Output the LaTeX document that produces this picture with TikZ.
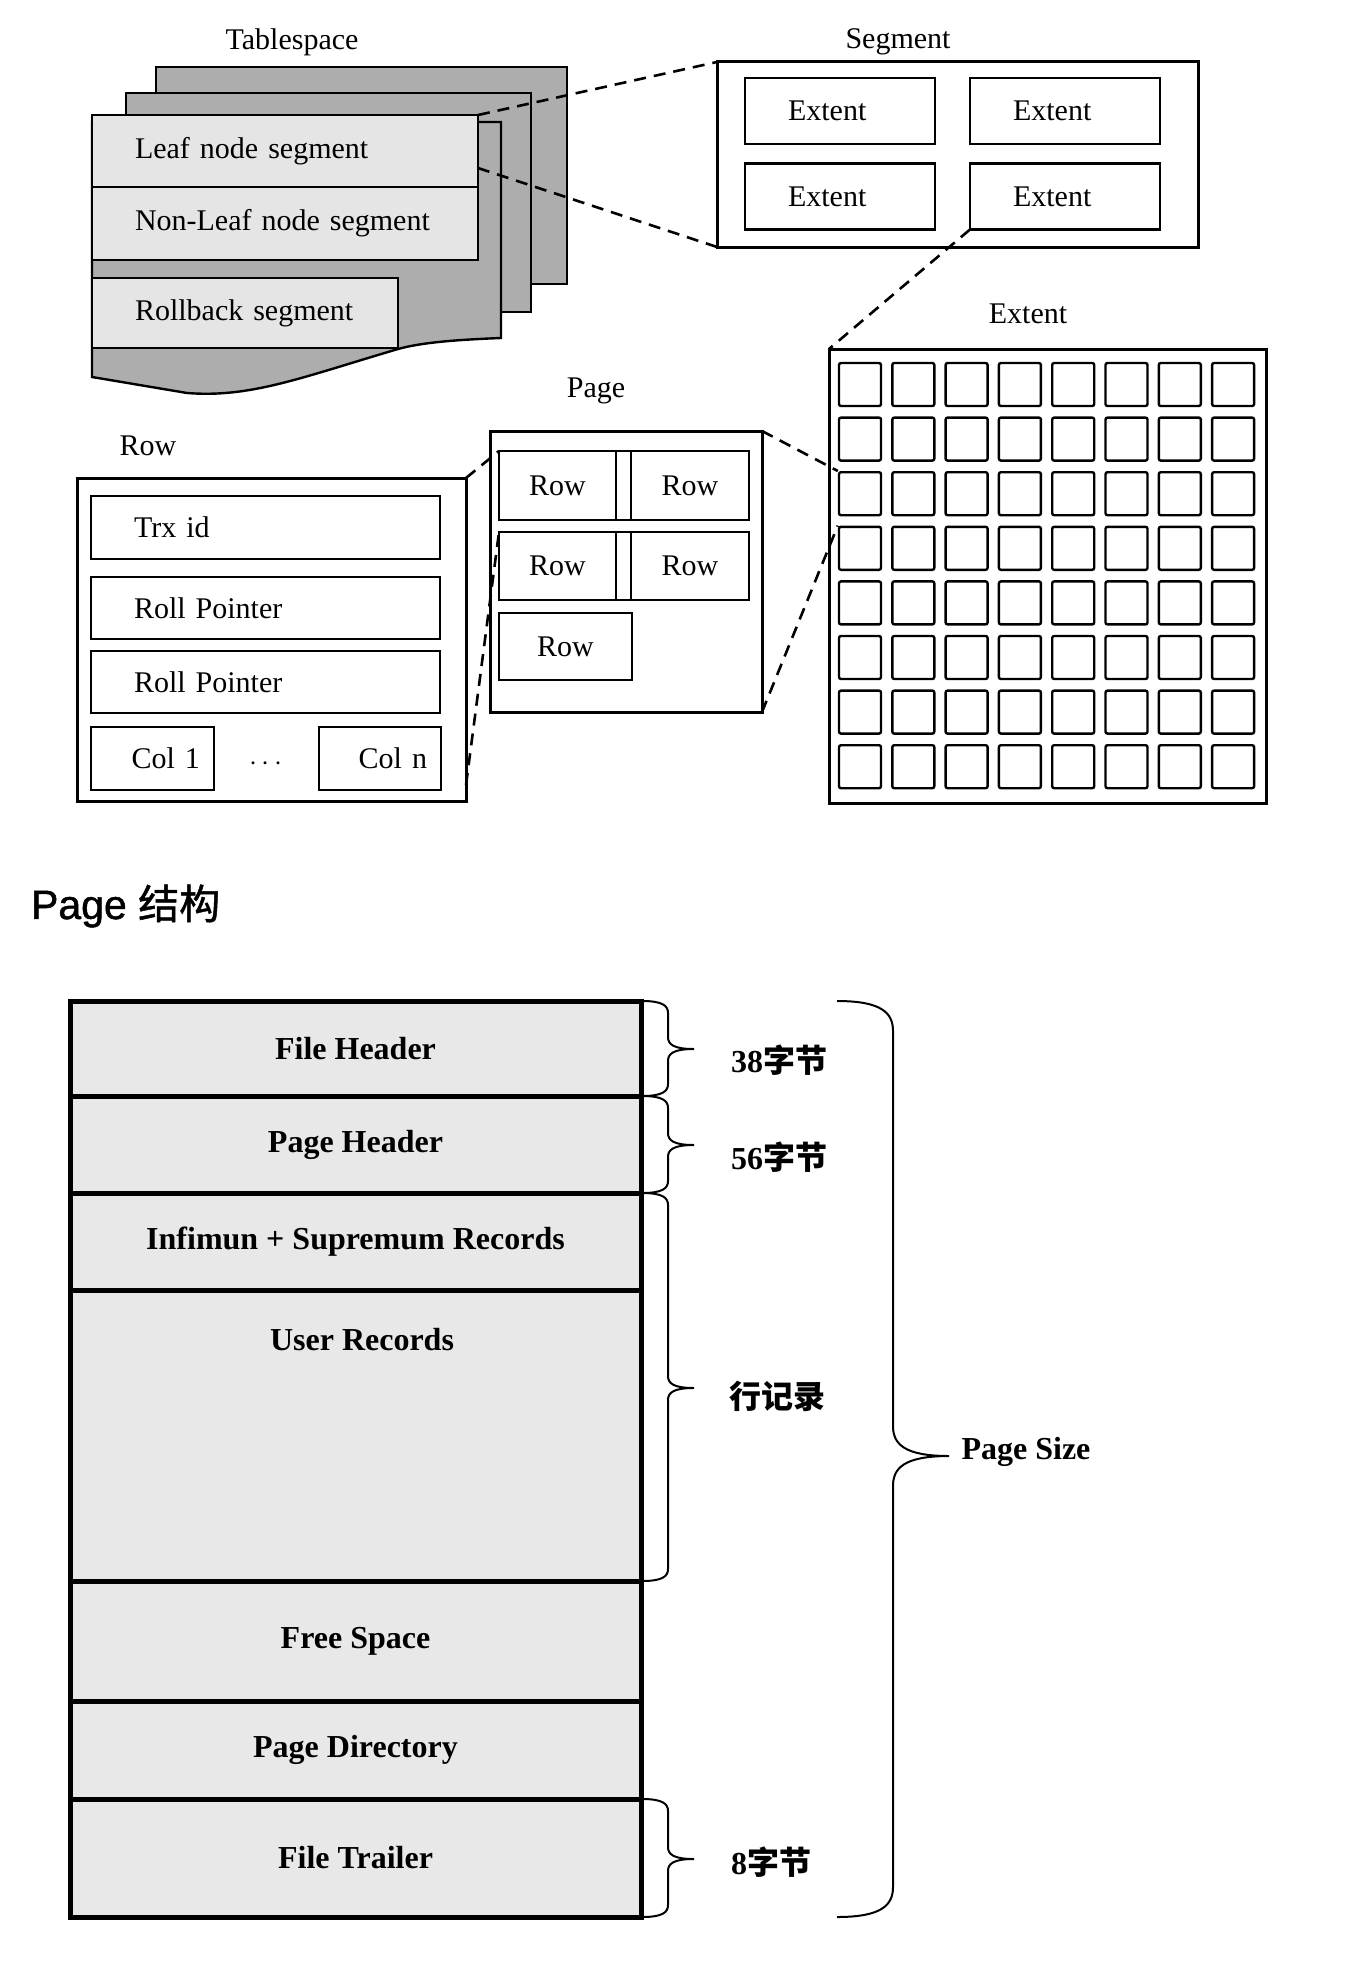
\documentclass[tikz,border=0pt]{standalone}
\usepackage{fontspec}
\setmainfont{Liberation Serif}
\newfontfamily\cjk{Noto Sans CJK SC}
\newfontfamily\titlefont[FakeBold=1.2]{Liberation Sans}
\newfontfamily\titlecjk[FakeBold=1.2]{Noto Sans CJK SC}

\definecolor{sheetgray}{gray}{0.68}
\definecolor{boxgray}{gray}{0.90}
\definecolor{pagegray}{gray}{0.91}

% brace: x, top, bottom, tip, half width, curl
\newcommand\pbrace[6]{%
  \draw[bracepath] (#1,#2) .. controls ({#1+0.8*#5},#2) and ({#1+#5},{#2+0.4*#6}) .. ({#1+#5},{#2+#6})
    -- ({#1+#5},{#4-#6}) .. controls ({#1+#5},{#4-0.4*#6}) and ({#1+1.2*#5},#4) .. ({#1+2*#5},#4)
    .. controls ({#1+1.2*#5},#4) and ({#1+#5},{#4+0.4*#6}) .. ({#1+#5},{#4+#6})
    -- ({#1+#5},{#3-#6}) .. controls ({#1+#5},{#3-0.4*#6}) and ({#1+0.8*#5},#3) .. (#1,#3);}

\begin{document}
\begin{tikzpicture}[x=0.5pt, y=-0.5pt,
  lbl/.style={font=\fontsize{15}{18}\selectfont},
  sheet/.style={draw, line width=1.2pt, fill=sheetgray},
  tbox/.style={draw, line width=1.2pt, fill=boxgray, anchor=west, outer sep=0pt, inner xsep=21.5pt, align=left, font=\fontsize{15}{18}\selectfont},
  wbox/.style={draw, line width=1.2pt, fill=white, outer sep=0pt, font=\fontsize{15}{18}\selectfont},
  outer/.style={draw, line width=1.5pt, outer sep=0pt},
  sq/.style={draw, line width=1.2pt, rounded corners=1pt, minimum width=21pt, minimum height=21.5pt, inner sep=0pt},
  zoomline/.style={line width=1.3pt, dash pattern=on 6pt off 4pt},
  pgrow/.style={draw, line width=2.5pt, fill=pagegray, anchor=north west, outer sep=0pt, minimum width=285.5pt, font=\bfseries\fontsize{16}{19}\selectfont},
  bracepath/.style={line width=1pt},
  note/.style={font=\bfseries\fontsize{16}{19}\selectfont}]

\useasboundingbox (0,0) rectangle (1370,1964);

% tablespace
\node[lbl] (tsp) at (292,42) {Tablespace};
\draw[sheet] (156,67) rectangle (567,284);
\draw[sheet] (126,93) rectangle (531,312);
\draw[sheet] (92,122) -- (501,122) -- (501,338) .. controls (450,340) and (420,343) .. (398,349)
  .. controls (300,378) and (250,398) .. (187,393) -- (92,377) -- cycle;
\node[tbox, text width=150pt, minimum height=36pt] (leaf) at (92,151) {Leaf node segment};
\node[tbox, text width=150pt, minimum height=36.5pt] (nonleaf) at (92,223.5) {Non-Leaf node segment};
\node[tbox, text width=110pt, minimum height=35pt] (rollback) at (92,313) {Rollback segment};
\coordinate (leafR) at (478,168);

% segment
\node[lbl] (segT) at (898,42) {Segment};
\node[outer, minimum width=240.5pt, minimum height=92.5pt] (seg) at (957.5,154.5) {};
\node[tbox, fill=white, text width=52pt, minimum height=33pt] (ext1) at (745,111) {Extent};
\node[tbox, fill=white, text width=52pt, minimum height=33pt] (ext2) at (970,111) {Extent};
\node[tbox, fill=white, text width=52pt, minimum height=33pt] (ext3) at (745,196.5) {Extent};
\node[tbox, fill=white, text width=52pt, minimum height=33pt] (ext4) at (970,196.5) {Extent};

% extent
\node[lbl] (extT) at (1028,314) {Extent};
\node[outer, minimum width=218.5pt, minimum height=227pt] (ext) at (1047.5,576) {};
\foreach \i in {1,...,8}
  \foreach \j in {1,...,8}
    \node[sq] (s-\i-\j) at ({860+53.3*(\i-1)},{384.5+54.6*(\j-1)}) {};

% page
\node[lbl] (pageT) at (596,391) {Page};
\node[outer, minimum width=136pt, minimum height=140.5pt] (page) at (626,571.5) {};
\node[wbox, minimum width=58.5pt, minimum height=34.5pt] (pr1a) at (557.5,485.5) {Row};
\node[wbox, minimum width=59pt, minimum height=34.5pt] (pr1b) at (690,485.5) {Row};
\node[wbox, minimum width=58.5pt, minimum height=34pt] (pr2a) at (557.5,566) {Row};
\node[wbox, minimum width=59pt, minimum height=34pt] (pr2b) at (690,566) {Row};
\node[wbox, minimum width=66.5pt, minimum height=33.5pt] (pr3) at (565.5,646.5) {Row};
\draw[line width=1.2pt] (pr1a.north east) -- (pr1b.north west) (pr1a.south east) -- (pr1b.south west);
\draw[line width=1.2pt] (pr2a.north east) -- (pr2b.north west) (pr2a.south east) -- (pr2b.south west);

% row
\node[lbl] (rowT) at (148,446) {Row};
\node[outer, minimum width=194.5pt, minimum height=161.5pt] (row) at (271.5,639.5) {};
\node[tbox, fill=white, text width=131.5pt, minimum height=31.5pt] (trx) at (91,527.5) {Trx id};
\node[tbox, fill=white, text width=131.5pt, minimum height=31pt] (roll1) at (91,608) {Roll Pointer};
\node[tbox, fill=white, text width=131.5pt, minimum height=31pt] (roll2) at (91,682) {Roll Pointer};
\node[tbox, fill=white, text width=47.5pt, inner xsep=7pt, align=right, minimum height=31.5pt] (col1) at (91,758.5) {Col 1};
\node[tbox, fill=white, text width=47pt, inner xsep=7pt, align=right, minimum height=31.5pt] (coln) at (319,758.5) {Col n};
\node[lbl] (dots) at (266,764) {$\cdots$};
\coordinate (rowR) at (466,785);

% zoom lines
\draw[zoomline] (leaf.north east) edge (seg.north west);
\draw[zoomline] (leafR) edge (seg.south west);
\draw[zoomline] (ext4.south west) edge (ext.north west);
\draw[zoomline] (page.north east) edge (s-1-3.north west);
\draw[zoomline] (page.south east) edge (s-1-4.north west);
\draw[zoomline] (row.north east) edge (pr1a.north west);
\draw[zoomline] (rowR) edge (pr2a.north west);

% page structure
\node[anchor=west, font=\titlefont\fontsize{20.5}{24}\selectfont] (title) at (24,906) {Page {\titlecjk 结构}};
\node[pgrow, minimum height=47.5pt] (fh) at (70,1001) {File Header};
\node[pgrow, minimum height=48.5pt] (ph) at (70,1096) {Page Header};
\node[pgrow, minimum height=48.5pt] (isr) at (70,1193) {Infimun + Supremum Records};
\node[pgrow, minimum height=145.5pt] (ur) at (70,1290) {};
\node[note] (urT) at (362,1340) {User Records};
\node[pgrow, minimum height=60pt] (fs) at (70,1581) {Free Space};
\node[pgrow, minimum height=49pt] (pd) at (70,1701) {Page Directory};
\node[pgrow, minimum height=59pt] (ft) at (70,1799) {File Trailer};

\pbrace{642}{1001}{1096}{1049}{26}{12}
\pbrace{642}{1096}{1193}{1145}{26}{12}
\pbrace{642}{1193}{1581}{1388}{26}{12}
\pbrace{642}{1799}{1917}{1859}{26}{12}
\pbrace{837}{1001}{1917}{1456}{56}{30}
\node[note] (b38) at (779,1060) {38{\cjk 字节}};
\node[note] (b56) at (779,1157) {56{\cjk 字节}};
\node[note] (brec) at (777,1396) {\cjk 行记录};
\node[note] (b8) at (771,1862) {8{\cjk 字节}};
\node[note] (psize) at (1026,1452) {Page Size};
\end{tikzpicture}
\end{document}
